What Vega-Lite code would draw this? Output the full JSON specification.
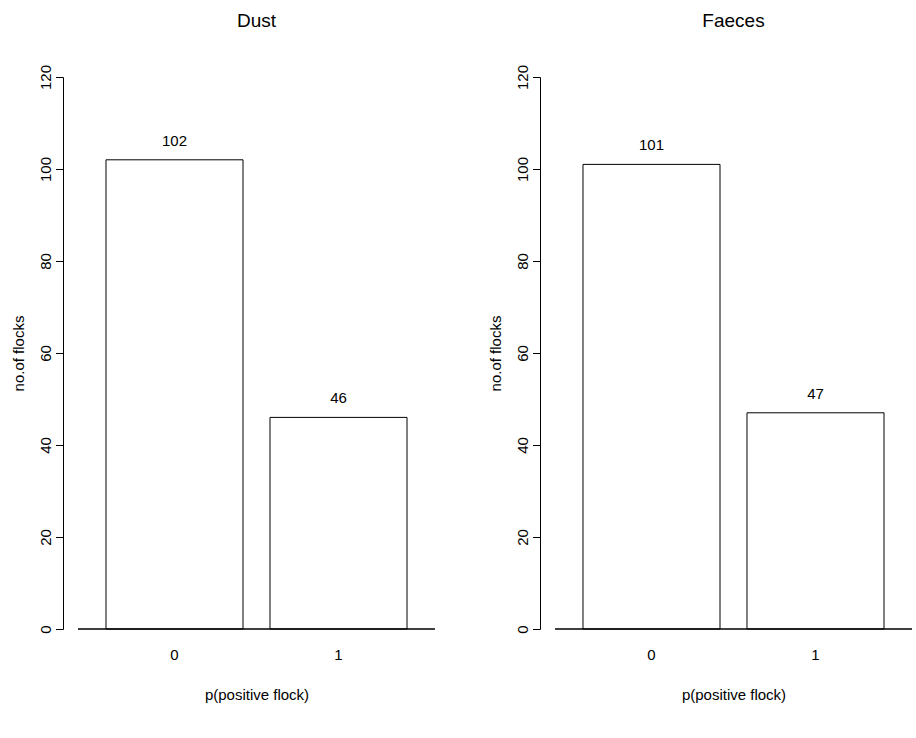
{
  "$schema": "https://vega.github.io/schema/vega-lite/v6.json",
  "background": "white",
  "padding": {"left": 11, "top": 12, "right": 4, "bottom": 20},
  "bounds": "flush",
  "spacing": 120,
  "config": {
    "font": "Liberation Sans",
    "view": {"stroke": null},
    "axis": {"grid": false, "labelFontSize": 15, "titleFontSize": 15, "labelColor": "black", "titleColor": "black", "titleFontWeight": "normal", "domainColor": "black", "tickColor": "black", "labelFont": "Liberation Sans", "titleFont": "Liberation Sans"},
    "title": {"font": "Liberation Sans", "fontSize": 19, "fontWeight": "normal", "color": "black", "frame": "group", "baseline": "alphabetic", "offset": 33}
  },
  "hconcat": [
    {
      "title": {"text": "Dust"},
      "width": 357,
      "height": 552,
      "data": {"values": [
        {"flock": "0", "n": 102},
        {"flock": "1", "n": 46}
      ]},
      "encoding": {
        "x": {"field": "flock", "type": "nominal", "sort": ["0", "1"],
          "scale": {"paddingInner": 0.1646, "paddingOuter": 0.1707},
          "axis": {"title": "p(positive flock)", "labelAngle": 0, "domain": false, "ticks": false, "tickSize": 0, "labelPadding": 18, "titlePadding": 25}},
        "y": {"field": "n", "type": "quantitative",
          "scale": {"domain": [0, 120], "nice": false, "zero": true},
          "axis": {"title": "no.of flocks", "values": [0, 20, 40, 60, 80, 100, 120], "offset": 15, "tickSize": 7.5, "labelAngle": 270, "labelPadding": 2.5, "titlePadding": 12}}
      },
      "layer": [
        {"mark": {"type": "bar", "fill": "white", "stroke": "black", "strokeWidth": 1}},
        {"mark": {"type": "text", "fontSize": 15, "dy": -19, "baseline": "middle", "color": "black"}, "encoding": {"text": {"field": "n", "type": "quantitative"}}},
        {"mark": {"type": "rule", "color": "black", "strokeWidth": 1}, "encoding": {"x": null, "y": {"datum": 0}}}
      ]
    },
    {
      "title": {"text": "Faeces"},
      "width": 357,
      "height": 552,
      "data": {"values": [
        {"flock": "0", "n": 101},
        {"flock": "1", "n": 47}
      ]},
      "encoding": {
        "x": {"field": "flock", "type": "nominal", "sort": ["0", "1"],
          "scale": {"paddingInner": 0.1646, "paddingOuter": 0.1707},
          "axis": {"title": "p(positive flock)", "labelAngle": 0, "domain": false, "ticks": false, "tickSize": 0, "labelPadding": 18, "titlePadding": 25}},
        "y": {"field": "n", "type": "quantitative",
          "scale": {"domain": [0, 120], "nice": false, "zero": true},
          "axis": {"title": "no.of flocks", "values": [0, 20, 40, 60, 80, 100, 120], "offset": 15, "tickSize": 7.5, "labelAngle": 270, "labelPadding": 2.5, "titlePadding": 12}}
      },
      "layer": [
        {"mark": {"type": "bar", "fill": "white", "stroke": "black", "strokeWidth": 1}},
        {"mark": {"type": "text", "fontSize": 15, "dy": -19, "baseline": "middle", "color": "black"}, "encoding": {"text": {"field": "n", "type": "quantitative"}}},
        {"mark": {"type": "rule", "color": "black", "strokeWidth": 1}, "encoding": {"x": null, "y": {"datum": 0}}}
      ]
    }
  ]
}
